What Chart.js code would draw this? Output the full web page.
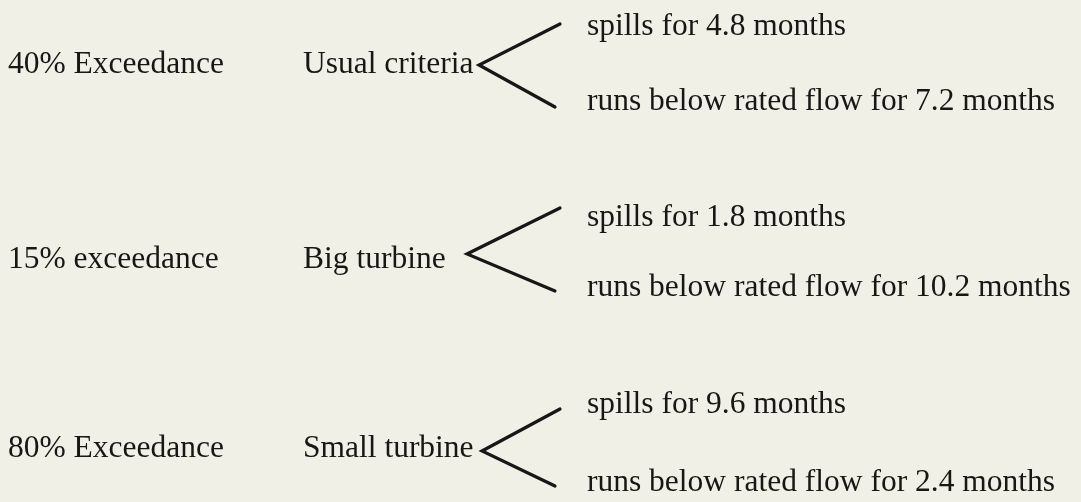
<!DOCTYPE html>
<html>
<head>
<meta charset="utf-8">
<script src="https://cdn.jsdelivr.net/npm/chart.js@4"></script>
<style>
  html, body { margin: 0; padding: 0; background: #f1f0e6; }
  canvas { display: block; }
</style>
</head>
<body>
<canvas id="flowChart" width="1081" height="502"></canvas>
<script>
const exceedance = ["40% Exceedance", "15% exceedance", "80% Exceedance"];
const designs = ["Usual criteria", "Big turbine", "Small turbine"];
const spillMonths = [4.8, 1.8, 9.6];
const belowMonths = [7.2, 10.2, 2.4];

// layout (page pixels, used as axis units)
const leftX = 8;
const designX = 303;
const outcomeX = 587;
const armEndX = 558;
const apexX = [479, 467, 482];
const apexY = [65, 254, 451];
const upperY = [24, 208, 409];
const lowerY = [107, 291, 486];
const leftBase = [73, 268, 457];
const spillBase = [35, 226, 413];
const belowBase = [110, 296, 491];

const inkColor = "#171717";
const font = "31.5px 'Liberation Serif', 'Times New Roman', serif";

const bracketSets = designs.map((d, i) => ({
  label: d,
  data: [
    { x: armEndX + 2, y: upperY[i] },
    { x: apexX[i], y: apexY[i] },
    { x: armEndX - 3, y: lowerY[i] }
  ],
  showLine: true,
  borderColor: inkColor,
  borderWidth: 3.2,
  borderJoinStyle: "miter",
  borderCapStyle: "round",
  pointRadius: 0,
  tension: 0,
  clip: false
}));

const paperBg = {
  id: "paperBg",
  beforeDraw(chart) {
    const ctx = chart.ctx;
    ctx.save();
    ctx.fillStyle = "#f1f0e6";
    ctx.fillRect(0, 0, chart.width, chart.height);
    ctx.restore();
  }
};

const textLabels = {
  id: "textLabels",
  afterDatasetsDraw(chart) {
    const ctx = chart.ctx;
    const xs = chart.scales.x;
    const ys = chart.scales.y;
    ctx.save();
    ctx.fillStyle = inkColor;
    ctx.font = font;
    ctx.textAlign = "left";
    ctx.textBaseline = "alphabetic";
    designs.forEach((d, i) => {
      ctx.fillText(exceedance[i], xs.getPixelForValue(leftX), ys.getPixelForValue(leftBase[i]));
      ctx.fillText(d, xs.getPixelForValue(designX), ys.getPixelForValue(leftBase[i]));
      ctx.fillText(`spills for ${spillMonths[i].toFixed(1)} months`,
        xs.getPixelForValue(outcomeX), ys.getPixelForValue(spillBase[i]));
      ctx.fillText(`runs below rated flow for ${belowMonths[i].toFixed(1)} months`,
        xs.getPixelForValue(outcomeX), ys.getPixelForValue(belowBase[i]));
    });
    ctx.restore();
  }
};

new Chart(document.getElementById("flowChart").getContext("2d"), {
  type: "scatter",
  data: { datasets: bracketSets },
  options: {
    responsive: false,
    animation: false,
    layout: { padding: 0 },
    plugins: {
      legend: { display: false },
      tooltip: { enabled: false }
    },
    scales: {
      x: { type: "linear", min: 0, max: 1081, display: false },
      y: { type: "linear", min: 0, max: 502, reverse: true, display: false }
    }
  },
  plugins: [paperBg, textLabels]
});
</script>
</body>
</html>
